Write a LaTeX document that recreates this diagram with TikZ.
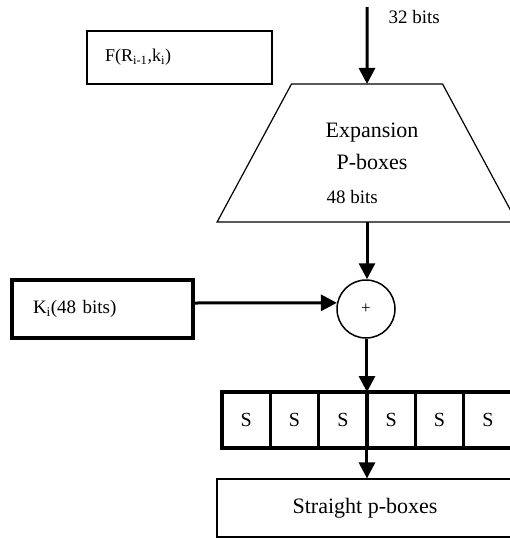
\documentclass[tikz,border=0pt]{standalone}
\usepackage{fontspec}
\setmainfont{Liberation Serif}
\usetikzlibrary{positioning,shapes.geometric,arrows.meta}

\begin{document}
\begin{tikzpicture}[x=1pt,y=-1pt,font=\fontsize{19}{22}\selectfont,
  flow/.style={line width=3pt,-{Triangle[length=16pt,width=16pt]}},
  sbox/.style={draw,line width=3.5pt,minimum width=48.33pt,minimum height=56pt,
    inner sep=0pt,outer sep=0pt,font=\fontsize{20}{24}\selectfont}]
  \useasboundingbox (0,0) rectangle (510,538);
  \clip (0,0) rectangle (510,538);
  \node (fbox) [draw,line width=2pt,minimum width=185pt,minimum height=53pt,inner xsep=18pt,
    text width=149pt,align=left,font=\fontsize{18}{20}\selectfont] at (179.5,57.5)
    {F(R\textsubscript{i-1},k\textsubscript{i})};
  \coordinate (top) at (367,7);
  \node (expand) [trapezium,draw,line width=1.2pt,trapezium left angle=61.5,trapezium right angle=61.5,
    trapezium stretches=true,minimum width=300pt,minimum height=138pt,inner sep=0pt,outer sep=0pt]
    at (367,153) {\phantom{X}};
  \node (exptext) [align=center,font=\fontsize{22}{32}\selectfont] at (372,146) {Expansion\\P-boxes};
  \node (inbits) [anchor=west] at (385,17) {32 bits};
  \node (outbits) [anchor=west] at (323,197) {48 bits};
  \node (plus) [circle,draw,line width=1.5pt,minimum size=58pt,inner sep=0pt] at (366,309)
    {\fontsize{17}{17}\selectfont +};
  \node (ki) [draw,line width=3.5pt,minimum width=181pt,minimum height=58pt,inner xsep=21pt,
    text width=139pt,align=left] at (102.5,309) {K\textsubscript{i}(48 bits)};
  \foreach \i in {1,...,6}
    \node (sbox\i) [sbox] at (222+48.33*\i-24.17,420) {S};
  \node (straight) [draw,line width=1.2pt,minimum width=296pt,minimum height=58pt,
    font=\fontsize{22}{24}\selectfont] at (365,508) {Straight p-boxes};

  \draw[flow] (top) -- (expand.north);
  \draw[flow] (expand.south) -- (expand.south |- plus.north);
  \draw[flow] ([yshift=6pt]ki.east) -- (plus.168);
  \draw[flow] (plus.south -| sbox3.north east) -- (sbox3.north east);
  \draw[flow] (sbox3.south east) -- (sbox3.south east |- straight.north);
\end{tikzpicture}
\end{document}
